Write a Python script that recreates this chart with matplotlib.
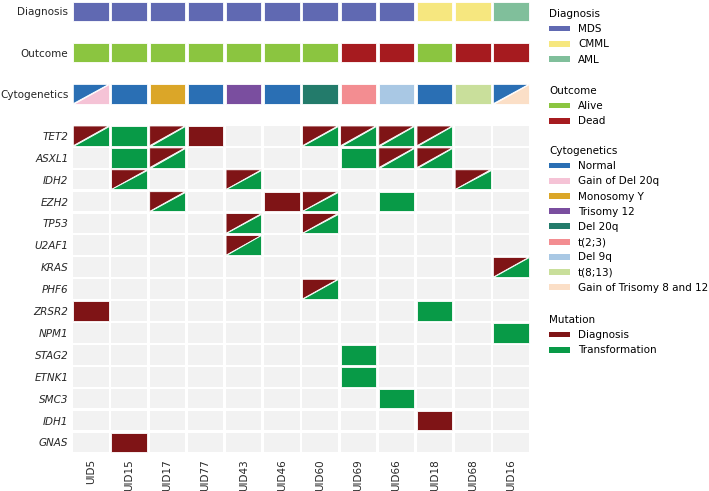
import matplotlib.pyplot as plt
from matplotlib.patches import Rectangle, Polygon, Patch

# sample columns
samples = ['UID5', 'UID15', 'UID17', 'UID77', 'UID43', 'UID46',
           'UID60', 'UID69', 'UID66', 'UID18', 'UID68', 'UID16']

# annotation tracks
diagnosis = ['MDS'] * 9 + ['CMML', 'CMML', 'AML']
outcome = ['Alive'] * 7 + ['Dead', 'Dead', 'Alive', 'Dead', 'Dead']
cyto = ['Normal', 'Normal', 'Monosomy Y', 'Normal', 'Trisomy 12', 'Normal',
        'Del 20q', 't(2;3)', 'Del 9q', 'Normal', 't(8;13)', 'Normal']
cyto_second = ['Gain of Del 20q', None, None, None, None, None,
               None, None, None, None, None, 'Gain of Trisomy 8 and 12']

genes = ['TET2', 'ASXL1', 'IDH2', 'EZH2', 'TP53', 'U2AF1', 'KRAS', 'PHF6',
         'ZRSR2', 'NPM1', 'STAG2', 'ETNK1', 'SMC3', 'IDH1', 'GNAS']
# D = diagnosis only, T = transformation only, B = both, . = none
mutations = [
    'B T B D . . B B B B . .',  # TET2
    '. T B . . . . T B B . .',  # ASXL1
    '. B . . B . . . . . B .',  # IDH2
    '. . B . . D B . T . . .',  # EZH2
    '. . . . B . B . . . . .',  # TP53
    '. . . . B . . . . . . .',  # U2AF1
    '. . . . . . . . . . . B',  # KRAS
    '. . . . . . B . . . . .',  # PHF6
    'D . . . . . . . . T . .',  # ZRSR2
    '. . . . . . . . . . . T',  # NPM1
    '. . . . . . . T . . . .',  # STAG2
    '. . . . . . . T . . . .',  # ETNK1
    '. . . . . . . . T . . .',  # SMC3
    '. . . . . . . . . D . .',  # IDH1
    '. D . . . . . . . . . .',  # GNAS
]

diag_colors = {'MDS': '#6069b2', 'CMML': '#f6e77f', 'AML': '#80bf9b'}
outcome_colors = {'Alive': '#8bc540', 'Dead': '#a61b1f'}
cyto_colors = {'Normal': '#2a6fb4', 'Gain of Del 20q': '#f5c3d6',
               'Monosomy Y': '#dba628', 'Trisomy 12': '#7a4e9f',
               'Del 20q': '#237b6b', 't(2;3)': '#f38d91', 'Del 9q': '#a9c8e4',
               't(8;13)': '#c9df9b', 'Gain of Trisomy 8 and 12': '#fbdfc7'}
mut_colors = {'Diagnosis': '#7f1416', 'Transformation': '#089a47'}
bg = '#f2f2f2'

fig = plt.figure(figsize=(7.09, 4.91), dpi=100)
ax = fig.add_axes([0.1014, 0.0766, 0.6463, 0.9224])

gx, gy = 0.037, 0.05


def cell(x, y, h, c1, c2=None):
    x0, x1 = x + gx, x + 1 - gx
    y0, y1 = y, y + h
    if c2 is None:
        ax.add_patch(Rectangle((x0, y0), x1 - x0, y1 - y0, facecolor=c1,
                               edgecolor='white', linewidth=0.6))
    else:
        # upper-left triangle and lower-right triangle
        ax.add_patch(Polygon([(x0, y0), (x1, y0), (x0, y1)], closed=True,
                             facecolor=c1, edgecolor='white', linewidth=0.6))
        ax.add_patch(Polygon([(x1, y0), (x1, y1), (x0, y1)], closed=True,
                             facecolor=c2, edgecolor='white', linewidth=0.6))


# annotation tracks
track_names = ['Diagnosis', 'Outcome', 'Cytogenetics']
track_tops = [-5.63, -3.74, -1.85]
track_h = 0.88
for i in range(len(samples)):
    cell(i, track_tops[0], track_h, diag_colors[diagnosis[i]])
    cell(i, track_tops[1], track_h, outcome_colors[outcome[i]])
    c2 = cyto_colors[cyto_second[i]] if cyto_second[i] else None
    cell(i, track_tops[2], track_h, cyto_colors[cyto[i]], c2)

# mutation matrix
for r, row in enumerate(mutations):
    codes = row.split()
    for i, code in enumerate(codes):
        ax.add_patch(Rectangle((i + gx, r + gy), 1 - 2 * gx, 1 - 2 * gy,
                               facecolor=bg, edgecolor='none'))
        if code == 'D':
            cell(i, r + gy, 1 - 2 * gy, mut_colors['Diagnosis'])
        elif code == 'T':
            cell(i, r + gy, 1 - 2 * gy, mut_colors['Transformation'])
        elif code == 'B':
            cell(i, r + gy, 1 - 2 * gy, mut_colors['Diagnosis'],
                 mut_colors['Transformation'])

ax.set_xlim(0, len(samples))
ax.set_ylim(len(genes), -5.68)

ax.set_xticks([i + 0.5 for i in range(len(samples))])
ax.set_xticklabels(samples, rotation=90, fontsize=7.5)
yt = [t + track_h / 2 for t in track_tops] + [r + 0.5 for r in range(len(genes))]
ax.set_yticks(yt)
ax.set_yticklabels(track_names + genes, fontsize=7.5)
for lab in ax.get_yticklabels()[3:]:
    lab.set_fontstyle('italic')
ax.tick_params(axis='y', length=0, pad=2.5, colors='#262626')
ax.tick_params(axis='x', length=0, pad=4, colors='#262626')
for s in ax.spines.values():
    s.set_visible(False)

# legends
groups = [('Diagnosis', diag_colors, 9),
          ('Outcome', outcome_colors, 86),
          ('Cytogenetics', cyto_colors, 146),
          ('Mutation', mut_colors, 315)]
for title, cmap, ytop in groups:
    handles = [Patch(facecolor=c, edgecolor='none', label=k) for k, c in cmap.items()]
    fig.legend(handles=handles, title=title, loc='upper left',
               bbox_to_anchor=(549 / 709, 1 - ytop / 491), frameon=False,
               fontsize=7.5, title_fontsize=7.5, alignment='left',
               borderpad=0, borderaxespad=0, handlelength=2.0,
               handleheight=0.5, handletextpad=0.8, labelspacing=0.5)

fig.savefig('out.png', dpi=100)
